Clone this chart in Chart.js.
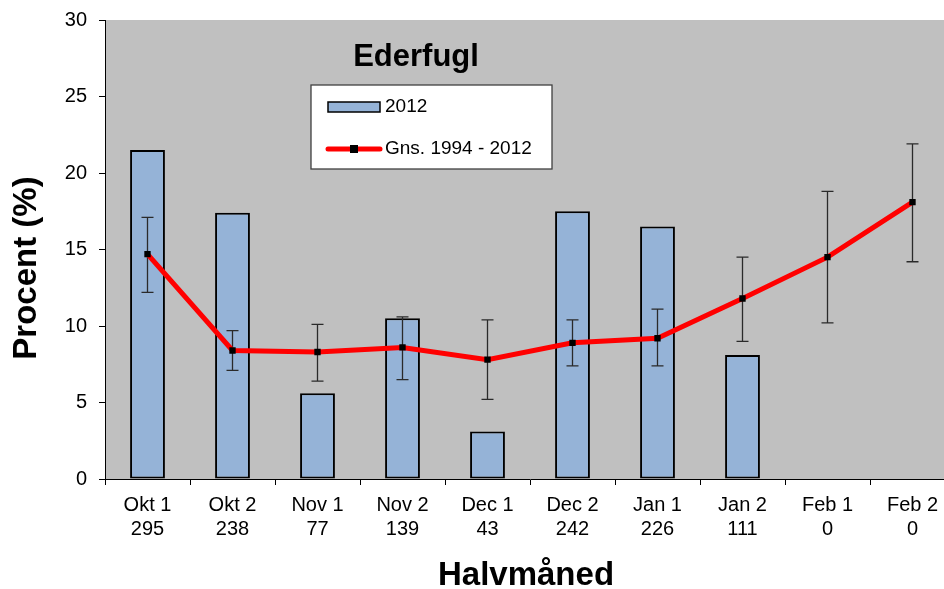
<!DOCTYPE html>
<html>
<head>
<meta charset="utf-8">
<script src="https://cdn.jsdelivr.net/npm/chart.js"></script>
<style>
  html, body { margin: 0; padding: 0; background: #fff; overflow: hidden; }
  #wrap { width: 960px; height: 589px; }
</style>
</head>
<body>
<div id="wrap"><canvas id="chart" width="960" height="589"></canvas></div>
<script>
// Data
const periods = ["Okt 1", "Okt 2", "Nov 1", "Nov 2", "Dec 1", "Dec 2", "Jan 1", "Jan 2", "Feb 1", "Feb 2"];
const counts = ["295", "238", "77", "139", "43", "242", "226", "111", "0", "0"];
const pct2012 = [21.5, 17.4, 5.6, 10.5, 3.1, 17.5, 16.5, 8.1, null, null];
const avgPct = [14.7, 8.4, 8.3, 8.6, 7.8, 8.9, 9.2, 11.8, 14.5, 18.1];
const avgHigh = [17.1, 9.7, 10.1, 10.6, 10.4, 10.4, 11.1, 14.5, 18.8, 21.9];
const avgLow = [12.2, 7.1, 6.4, 6.5, 5.2, 7.4, 7.4, 9.0, 10.2, 14.2];
const yTicks = [0, 5, 10, 15, 20, 25, 30];

const FONT = "'Liberation Sans', Arial, sans-serif";
const BAR_FILL = "#95B3D7";

// Gray plot background
const plotBackground = {
  id: "plotBackground",
  beforeDraw(chart) {
    const { ctx, chartArea: a } = chart;
    ctx.save();
    ctx.fillStyle = "#C0C0C0";
    ctx.fillRect(a.left, a.top, a.right - a.left, a.bottom - a.top);
    ctx.restore();
  },
};

// Error bars drawn right after the bars, below the red line
const errorBars = {
  id: "errorBars",
  afterDatasetDraw(chart, args) {
    if (args.index !== 0) return;
    const { ctx } = chart;
    const x = chart.scales.x;
    const y = chart.scales.y;
    ctx.save();
    ctx.strokeStyle = "#2a2a2a";
    ctx.lineWidth = 1.3;
    avgPct.forEach((v, i) => {
      const cx = x.getPixelForValue(i);
      const top = y.getPixelForValue(avgHigh[i]);
      const bot = y.getPixelForValue(avgLow[i]);
      ctx.beginPath();
      ctx.moveTo(cx, top);
      ctx.lineTo(cx, bot);
      ctx.moveTo(cx - 6, top);
      ctx.lineTo(cx + 6, top);
      ctx.moveTo(cx - 6, bot);
      ctx.lineTo(cx + 6, bot);
      ctx.stroke();
    });
    ctx.restore();
  },
};

// Title, legend box and axis titles
const decorations = {
  id: "decorations",
  afterDraw(chart) {
    const { ctx, chartArea: a } = chart;
    ctx.save();
    ctx.fillStyle = "#000";
    ctx.textBaseline = "middle";

    ctx.font = "bold 31px " + FONT;
    ctx.textAlign = "center";
    ctx.fillText("Ederfugl", 416, 57);

    // legend
    const lx = a.left + 206, ly = 85;
    ctx.fillStyle = "#fff";
    ctx.fillRect(lx, ly, 241, 84);
    ctx.strokeStyle = "#404040";
    ctx.lineWidth = 1.3;
    ctx.strokeRect(lx, ly, 241, 84);

    ctx.fillStyle = BAR_FILL;
    ctx.fillRect(lx + 17, ly + 17, 52, 10);
    ctx.strokeStyle = "#000";
    ctx.lineWidth = 1.5;
    ctx.strokeRect(lx + 17, ly + 17, 52, 10);

    ctx.strokeStyle = "#FF0000";
    ctx.lineWidth = 5;
    ctx.lineCap = "round";
    ctx.beginPath();
    ctx.moveTo(lx + 17, ly + 64);
    ctx.lineTo(lx + 69, ly + 64);
    ctx.stroke();
    ctx.fillStyle = "#000";
    ctx.fillRect(lx + 39, ly + 60, 8, 8);

    ctx.font = "19px " + FONT;
    ctx.textAlign = "left";
    ctx.fillText("2012", lx + 74, ly + 22);
    ctx.fillText("Gns. 1994 - 2012", lx + 74, ly + 64);

    // axis titles
    ctx.font = "bold 33px " + FONT;
    ctx.textAlign = "center";
    ctx.fillText("Halvmåned", 526, 576);
    ctx.translate(27, 268);
    ctx.rotate(-Math.PI / 2);
    ctx.fillText("Procent (%)", 0, 0);
    ctx.restore();
  },
};

const ctx = document.getElementById("chart").getContext("2d");
new Chart(ctx, {
  type: "bar",
  data: {
    labels: periods.map((p, i) => [p, counts[i]]),
    datasets: [
      {
        label: "2012",
        data: pct2012,
        backgroundColor: BAR_FILL,
        borderColor: "#000",
        borderWidth: 2,
        borderSkipped: false,
        barPercentage: 0.41,
        categoryPercentage: 1,
        order: 1,
      },
      {
        type: "line",
        label: "Gns. 1994 - 2012",
        data: avgPct,
        borderColor: "#FF0000",
        borderWidth: 5,
        tension: 0,
        pointStyle: "rect",
        pointRadius: 4.5,
        pointBackgroundColor: "#000",
        pointBorderColor: "#000",
        pointBorderWidth: 0,
        order: 0,
      },
    ],
  },
  options: {
    responsive: false,
    animation: false,
    layout: { padding: { top: 20, right: 5, left: 0, bottom: 0 } },
    plugins: {
      legend: { display: false },
      title: { display: false },
      tooltip: { enabled: false },
    },
    scales: {
      x: {
        grid: { drawOnChartArea: false, color: "#000", tickLength: 6, offset: true },
        border: { color: "#000", width: 1 },
        ticks: {
          color: "#000",
          font: { family: FONT, size: 20, lineHeight: 1.2 },
          padding: 8,
          maxRotation: 0,
          autoSkip: false,
        },
        afterFit(scale) {
          scale.height = 110;
          scale.paddingLeft = 0;
          scale.paddingRight = 0;
        },
      },
      y: {
        min: 0,
        max: 30,
        afterBuildTicks(scale) { scale.ticks = yTicks.map((v) => ({ value: v })); },
        grid: { drawOnChartArea: false, color: "#000", tickLength: 6 },
        border: { color: "#000", width: 1 },
        ticks: {
          color: "#000",
          font: { family: FONT, size: 20 },
          padding: 12,
        },
        afterFit(scale) {
          scale.width = 105;
          scale.paddingTop = 0;
          scale.paddingBottom = 0;
        },
      },
    },
  },
  plugins: [plotBackground, errorBars, decorations],
});
</script>
</body>
</html>
